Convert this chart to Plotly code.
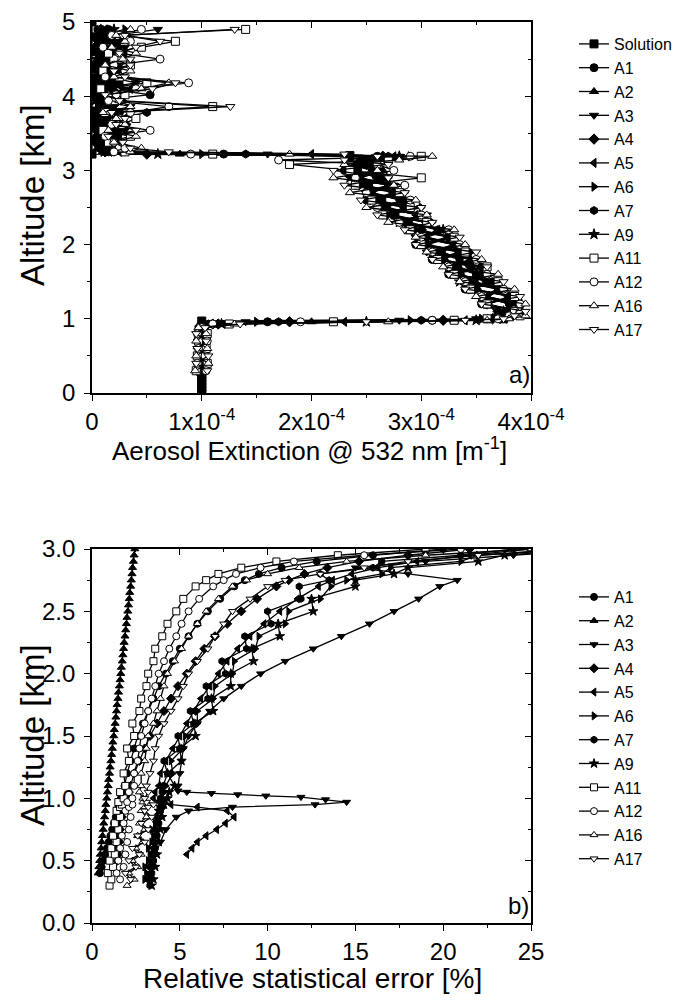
import plotly.graph_objects as go

FONT = "Liberation Sans, Arial, sans-serif"
W, H = 687, 1006
OFF = 8  # page offset of the figure inside the browser window

# ---------------- Panel a) : aerosol extinction profiles (values in 1e-4 m^-1) ----------------
ALT_SOL = [0.00, 0.04, 0.08, 0.12, 0.16, 0.20, 0.24, 0.28, 0.32, 0.40, 0.50, 0.60, 0.70, 0.80, 0.90, 0.97,
           1.00, 1.20, 1.40, 1.60, 1.80, 2.00, 2.20, 2.40, 2.60, 2.80, 3.00, 3.20, 3.22, 3.40, 3.60, 3.80,
           4.00, 4.20, 4.40, 4.60, 4.80, 5.00]
EXT_SOL = [1.0, 1.0, 1.0, 1.0, 1.0, 1.0, 1.0, 1.0, 1.0, 1.0, 1.0, 1.0, 1.0, 1.0, 1.0, 1.0,
           3.75, 3.6, 3.45, 3.3, 3.15, 3.0, 2.88, 2.76, 2.64, 2.52, 2.42, 2.35, 0.0, 0.0, 0.0, 0.0,
           0.0, 0.0, 0.0, 0.0, 0.0, 0.0]

ALT_TOP = [0.30, 0.40, 0.50, 0.60, 0.70, 0.80, 0.88, 0.93, 0.96, 0.98, 1.00, 1.04, 1.10,
           1.20, 1.30, 1.40, 1.50, 1.60, 1.70, 1.80, 1.90, 2.00, 2.10, 2.20, 2.30, 2.40, 2.50, 2.60,
           2.70, 2.80, 2.90, 3.00,
           3.08, 3.14, 3.19, 3.22, 3.25,
           3.30, 3.38, 3.46, 3.54, 3.62, 3.70, 3.78, 3.86, 3.94, 4.02, 4.10, 4.18, 4.26, 4.34, 4.42,
           4.50, 4.58, 4.66, 4.74, 4.82, 4.90]

EXT_A1 = [1.00, 0.98, 1.02, 0.99, 1.01, 0.97, 1.00, 1.10, 1.6, 3.1, 3.6, 3.75, 3.8,
          3.55, 3.85, 3.4, 3.65, 3.25, 3.55, 3.1, 3.35, 2.95, 3.25, 2.9, 3.05, 2.65, 2.85, 2.5, 2.75, 2.4, 2.65, 2.3,
          2.5, 2.55, 2.6, 1.2, 0.15,
          0.10, 0.05, 0.20, 0.08, 0.15, 0.03, 0.25, 0.10, 0.05, 0.53, 0.12, 0.20, 0.06, 0.15, 0.02, 0.18,
          0.10, 0.05, 0.22, 0.08, 0.15]
EXT_A2 = [0.99, 1.01, 0.98, 1.02, 1.00, 1.03, 1.01, 1.20, 2.0, 3.3, 3.7, 3.8, 3.75,
          3.85, 3.6, 3.75, 3.45, 3.6, 3.3, 3.45, 3.15, 3.35, 3.05, 3.25, 2.85, 3.0, 2.65, 2.85, 2.55, 2.75, 2.45, 2.65,
          2.55, 2.5, 2.7, 0.8, 0.1,
          0.05, 0.12, 0.03, 0.18, 0.06, 0.10, 0.02, 0.15, 0.08, 0.04, 0.20, 0.07, 0.12, 0.03, 0.16, 0.05,
          0.10, 0.02, 0.14, 0.06, 0.10]
EXT_A3 = [1.02, 0.97, 1.00, 1.03, 0.98, 1.01, 0.99, 1.05, 1.4, 2.8, 3.5, 3.7, 3.85,
          3.9, 3.6, 3.7, 3.4, 3.55, 3.25, 3.45, 3.05, 3.3, 2.95, 3.2, 2.8, 3.05, 2.6, 2.85, 2.5, 2.75, 2.4, 2.6,
          2.45, 2.6, 2.8, 1.6, 0.2,
          0.15, 0.20, 0.08, 0.30, 0.12, 0.05, 0.22, 0.35, 0.10, 0.18, 0.06, 0.40, 0.15, 0.08, 0.25, 0.12,
          0.05, 0.30, 0.10, 0.20, 0.60]
EXT_A4 = [0.98, 1.02, 1.01, 0.97, 1.02, 0.99, 1.02, 1.15, 1.8, 3.2, 3.65, 3.8, 3.7,
          3.6, 3.8, 3.5, 3.6, 3.35, 3.45, 3.2, 3.35, 3.05, 3.25, 3.0, 3.05, 2.75, 2.85, 2.6, 2.75, 2.5, 2.6, 2.4,
          2.5, 2.45, 2.65, 0.5, 0.12,
          0.08, 0.03, 0.15, 0.05, 0.20, 0.10, 0.04, 0.18, 0.06, 0.12, 0.02, 0.16, 0.08, 0.20, 0.05, 0.10,
          0.15, 0.03, 0.12, 0.06, 0.08]
EXT_A5 = [1.01, 0.99, 0.97, 1.01, 0.99, 1.02, 0.98, 1.08, 2.3, 3.4, 3.7, 3.75, 3.8,
          3.9, 3.6, 3.7, 3.5, 3.5, 3.35, 3.35, 3.2, 3.3, 3.05, 3.15, 2.9, 2.95, 2.7, 2.8, 2.55, 2.7, 2.45, 2.55,
          2.4, 2.55, 2.75, 2.0, 0.25,
          0.20, 0.10, 0.25, 0.12, 0.05, 0.30, 0.15, 0.08, 0.22, 0.10, 0.35, 0.06, 0.18, 0.25, 0.08, 0.15,
          0.30, 0.10, 0.05, 0.20, 0.12]
EXT_A6 = [0.97, 1.03, 0.99, 1.00, 1.03, 0.98, 1.01, 1.12, 1.5, 2.9, 3.55, 3.85, 3.9,
          3.6, 3.85, 3.45, 3.7, 3.3, 3.55, 3.15, 3.45, 3.05, 3.3, 2.95, 3.1, 2.7, 3.0, 2.55, 2.85, 2.45, 2.7, 2.35,
          2.55, 2.6, 2.9, 1.0, 0.1,
          0.12, 0.25, 0.06, 0.20, 0.32, 0.08, 0.15, 0.05, 0.28, 0.12, 0.04, 0.22, 0.10, 0.30, 0.15, 0.06,
          0.20, 0.12, 0.25, 0.08, 0.30]
EXT_A7 = [1.03, 1.00, 1.02, 0.98, 1.00, 1.01, 0.97, 1.06, 1.7, 3.0, 3.6, 3.7, 3.8,
          3.8, 3.55, 3.7, 3.4, 3.5, 3.3, 3.35, 3.1, 3.3, 3.0, 3.15, 2.85, 3.0, 2.6, 2.85, 2.5, 2.7, 2.4, 2.6,
          2.5, 2.5, 2.7, 1.4, 0.2,
          0.06, 0.15, 0.10, 0.04, 0.18, 0.22, 0.50, 0.08, 0.12, 0.05, 0.15, 0.25, 0.03, 0.10, 0.20, 0.08,
          0.12, 0.05, 0.18, 0.10, 0.05]
EXT_A9 = [1.00, 1.01, 0.98, 1.02, 0.97, 1.00, 1.02, 1.18, 2.5, 3.5, 3.75, 3.8, 3.75,
          3.8, 3.55, 3.7, 3.35, 3.55, 3.25, 3.45, 3.1, 3.3, 3.0, 3.2, 2.8, 3.0, 2.65, 2.85, 2.5, 2.7, 2.35, 2.6,
          2.45, 2.55, 2.8, 0.6, 0.15,
          0.18, 0.08, 0.12, 0.25, 0.05, 0.15, 0.10, 0.20, 0.03, 0.16, 0.28, 0.10, 0.06, 0.22, 0.12, 0.04,
          0.18, 0.25, 0.08, 0.14, 0.20]
EXT_A11 = [0.95, 1.05, 0.96, 1.04, 0.97, 1.05, 0.99, 1.25, 2.2, 3.3, 3.6, 3.9, 3.85,
           3.6, 3.85, 3.45, 3.7, 3.3, 3.6, 3.15, 3.4, 3.0, 3.3, 2.9, 3.05, 2.65, 2.9, 2.55, 2.8, 2.4, 3.0, 2.35,
           1.8, 2.7, 3.0, 1.1, 0.3,
           0.25, 0.15, 0.35, 0.10, 0.28, 0.40, 0.12, 1.10, 0.20, 0.30, 0.08, 0.50, 0.25, 0.10, 0.35, 0.20,
           0.15, 0.45, 0.76, 0.25, 1.40]
EXT_A12 = [1.04, 0.96, 1.03, 0.97, 1.05, 0.96, 1.00, 1.10, 1.9, 3.1, 3.7, 3.8, 3.9,
           3.9, 3.55, 3.75, 3.4, 3.6, 3.25, 3.5, 3.1, 3.35, 3.0, 3.25, 2.8, 3.0, 2.6, 2.9, 2.5, 2.85, 2.4, 2.75,
           2.6, 1.7, 2.9, 0.9, 0.2,
           0.30, 0.20, 0.12, 0.53, 0.18, 0.25, 0.35, 0.70, 0.15, 0.22, 0.40, 0.88, 0.12, 0.30, 0.20, 0.62,
           0.25, 0.10, 0.35, 0.18, 0.45]
EXT_A16 = [0.94, 1.06, 0.95, 1.05, 0.95, 1.04, 0.97, 1.30, 2.7, 3.6, 3.8, 3.95, 3.9,
           3.95, 3.5, 3.85, 3.35, 3.7, 3.2, 3.55, 3.05, 3.4, 2.95, 3.3, 2.7, 3.05, 2.5, 2.95, 2.35, 2.75, 2.2, 2.6,
           2.3, 2.8, 3.1, 1.8, 0.35,
           0.45, 0.20, 0.40, 0.15, 0.30, 0.22, 0.10, 0.35, 0.25, 0.15, 0.45, 0.70, 0.20, 0.35, 0.12, 0.28,
           0.40, 0.18, 0.30, 0.22, 0.35]
EXT_A17 = [1.05, 0.95, 1.06, 0.96, 1.04, 0.95, 1.03, 1.35, 2.5, 3.4, 3.75, 3.85, 3.95,
           3.55, 3.9, 3.4, 3.75, 3.25, 3.6, 3.1, 3.5, 2.95, 3.35, 2.85, 3.1, 2.6, 3.0, 2.45, 2.85, 2.3, 2.7, 2.2,
           2.7, 2.3, 2.6, 2.3, 0.7,
           0.35, 0.28, 0.15, 0.40, 0.22, 0.30, 0.18, 1.26, 0.25, 0.12, 0.55, 0.76, 0.30, 0.20, 0.35, 0.35,
           0.25, 0.40, 0.62, 0.30, 1.30]

EXT_TICKS = [0, 1e-4, 2e-4, 3e-4, 4e-4]
EXT_TICKTEXT = ["0", "1x10<sup>-4</sup>", "2x10<sup>-4</sup>", "3x10<sup>-4</sup>", "4x10<sup>-4</sup>"]

# ---------------- Panel b) : relative statistical error (%) ----------------
ALT_ERR = [0.30, 0.35, 0.40, 0.45, 0.50, 0.55, 0.60, 0.65, 0.70, 0.75, 0.80, 0.85, 0.90,
           0.93, 0.95, 0.97, 1.00, 1.05, 1.10,
           1.20, 1.30, 1.40, 1.50, 1.60, 1.70, 1.80, 1.90, 2.00, 2.10, 2.20, 2.30, 2.40, 2.50, 2.60, 2.70,
           2.75, 2.80, 2.85, 2.90, 2.95, 3.00]

ERR_A1 = [None, None, 0.45, 0.55, 0.65, 0.75, 0.85, 0.95, 1.05, 1.15, 1.25, 1.35, 1.45,
          1.5, 1.55, 1.6, 1.65, 1.75, 1.85,
          2.0, 2.2, 2.4, 2.6, 2.9, 3.2, 3.5, 3.8, 4.2, 4.6, 5.0, 5.5, 6.0, 6.6, 7.3, 8.1,
          8.7, 9.5, 10.8, 12.8, 16.0, 20.0]
ALT_A2 = [0.40, 0.45, 0.50, 0.55, 0.60, 0.65, 0.70, 0.75, 0.80, 0.85, 0.90, 0.95, 1.00, 1.05, 1.10,
          1.15, 1.20, 1.25, 1.30, 1.35, 1.40, 1.45, 1.50, 1.55, 1.60, 1.65, 1.70, 1.75, 1.80, 1.85,
          1.90, 1.95, 2.00, 2.05, 2.10, 2.15, 2.20, 2.25, 2.30, 2.35, 2.40, 2.45, 2.50, 2.55, 2.60,
          2.65, 2.70, 2.75, 2.80, 2.85, 2.90, 2.95, 3.00]
ERR_A2 = [0.35, 0.39, 0.44, 0.47, 0.52, 0.55, 0.60, 0.64, 0.67, 0.72, 0.76, 0.79, 0.84, 0.88, 0.92,
          0.95, 1.00, 1.03, 1.08, 1.12, 1.16, 1.19, 1.24, 1.27, 1.32, 1.36, 1.40, 1.43, 1.48, 1.51,
          1.56, 1.60, 1.64, 1.67, 1.72, 1.76, 1.80, 1.83, 1.88, 1.92, 1.96, 1.99, 2.04, 2.08, 2.12,
          2.15, 2.20, 2.24, 2.28, 2.31, 2.36, 2.40, 2.44]
ALT_A3 = [0.35, 0.45, 0.55, 0.65, 0.75, 0.85, 0.90, 0.93, 0.95, 0.97, 0.99, 1.01, 1.02, 1.03, 1.04, 1.05,
          1.06, 1.10, 1.20, 1.30, 1.40, 1.50, 1.60, 1.70, 1.80, 1.90, 2.00, 2.10, 2.20, 2.30, 2.40, 2.50,
          2.60, 2.70, 2.75, 2.80, 2.85, 2.90, 2.95, 3.00]
ERR_A3 = [3.3, 3.4, 3.6, 3.9, 4.2, 4.8, 5.5, 8.0, 12.7, 14.5, 13.3, 11.9, 9.9, 8.3, 6.8, 5.4,
          4.9, 4.9, 5.0, 5.1, 5.2, 5.5, 6.0, 6.7, 7.5, 8.5, 9.6, 11.0, 12.6, 14.2, 15.8, 17.2,
          18.6, 19.8, 20.8, 18.0, 15.0, 19.0, 24.0, 29.0]
ERR_A4 = [None, None, None, None, 1.45, 1.5, 1.5, 1.55, 1.6, 1.6, 1.65, 1.7, 1.75,
          1.8, 1.85, 1.9,
          2.0, 2.1, 2.2,
          2.4, 2.7, 3.0, 3.3, 3.7, 4.1, 4.5, 4.9, 5.4, 5.9, 6.4, 7.0, 7.7, 8.5, 9.4, 10.5,
          11.2, 12.1, 13.4, 15.2, 18.0, 21.5]
ERR_A5 = [None, None, None, None, None, 5.4, 5.7, 6.0, 6.5, 7.1, 7.6, 8.1, 7.7,
          6.0, 4.5, 3.8,
          3.5, 3.6, 3.8,
          3.9, 4.2, 4.6, 5.0, 5.4, 5.8, 6.2, 6.7, 7.2, 7.7, 8.3, 9.0, 9.8, 10.7, 11.7, 12.9,
          13.7, 14.8, 16.3, 18.5, 21.5, 25.0]
ERR_A6 = [None, 3.0, 3.1, 3.0, 3.2, 3.3, 3.2, 3.4, 3.5, 3.4, 3.6, 3.7, 3.8,
          3.9, 4.0, 4.1,
          4.0, 4.1, 4.2,
          4.6, 4.5, 5.2, 5.3, 6.0, 6.0, 6.9, 7.0, 8.0, 8.1, 9.3, 9.5, 11.0, 11.2, 13.0, 13.6,
          14.5, 16.5, 17.0, 21.0, 22.0, 27.0]
ERR_A7 = [3.3, 3.2, 3.4, 3.3, 3.5, 3.4, 3.6, 3.5, 3.7, 3.6, 3.8, 3.7, 3.9,
          4.0, 4.0, 4.1,
          3.9, 4.0, 4.05,
          4.3, 4.1, 5.0, 4.9, 5.8, 5.6, 6.6, 6.5, 7.6, 7.4, 8.8, 8.7, 10.2, 10.0, 11.9, 11.8,
          13.5, 13.0, 16.0, 16.5, 21.0, 24.0]
ERR_A9 = [3.4, 3.5, 3.3, 3.6, 3.4, 3.7, 3.5, 3.8, 3.6, 3.9, 3.7, 4.0, 3.8,
          3.9, 4.1, 4.0,
          4.3, 4.4, 4.7,
          4.3, 5.1, 5.0, 5.9, 5.8, 6.9, 6.8, 7.9, 7.9, 9.2, 9.1, 10.7, 10.6, 12.6, 12.5, 15.0,
          15.0, 17.2, 18.0, 22.0, 23.5, 28.0]
ERR_A11 = [1.0, 1.1, 0.9, 1.2, 1.0, 1.3, 1.1, 1.4, 1.2, 1.5, 1.3, 1.6, 1.4,
           1.6, 1.7, 1.5,
           1.8, 1.6, 1.9,
           1.8, 2.1, 2.0, 2.4, 2.3, 2.7, 2.8, 3.1, 3.2, 3.5, 3.6, 4.0, 4.3, 4.8, 5.2, 5.9,
           6.5, 7.2, 8.5, 10.5, 14.0, 19.0]
ERR_A12 = [None, 1.6, 1.4, 1.8, 1.5, 1.9, 1.6, 2.0, 1.7, 2.1, 1.8, 2.2, 1.9,
           2.1, 2.3, 2.0,
           2.3, 2.1, 2.4,
           2.4, 2.6, 2.7, 2.8, 3.0, 3.2, 3.4, 3.6, 3.8, 4.1, 4.4, 4.8, 5.1, 5.5, 6.1, 6.9,
           7.5, 8.2, 9.6, 11.5, 15.5, 21.0]
ERR_A16 = [2.0, 2.4, 2.1, 2.6, 2.3, 2.8, 2.5, 2.9, 2.6, 3.0, 2.7, 3.1, 2.8,
           3.0, 3.2, 2.9,
           2.9, 2.7, 2.8,
           2.8, 3.0, 3.1, 3.2, 3.5, 3.7, 3.9, 4.1, 4.3, 4.7, 5.1, 5.5, 6.0, 6.5, 7.2, 8.0,
           8.8, 10.0, 11.8, 14.5, 19.0, 25.0]
ERR_A17 = [None, 2.2, 1.9, 2.5, 2.1, 2.7, 2.3, 3.0, 2.6, 3.2, 2.8, 3.4, 3.0,
           3.2, 3.5, 3.1,
           3.0, 3.2, 3.1,
           3.3, 3.5, 3.6, 3.8, 4.1, 4.5, 4.9, 5.2, 5.5, 6.0, 6.6, 7.0, 7.5, 8.0, 9.0, 10.0,
           11.0, 13.0, 15.5, 18.0, 22.0, 28.0]

# ---------------- styles ----------------
STYLE = {
    "Solution": ("square", "black"),
    "A1": ("circle", "black"),
    "A2": ("triangle-up", "black"),
    "A3": ("triangle-down", "black"),
    "A4": ("diamond", "black"),
    "A5": ("triangle-left", "black"),
    "A6": ("triangle-right", "black"),
    "A7": ("hexagon", "black"),
    "A9": ("star", "black"),
    "A11": ("square", "white"),
    "A12": ("circle", "white"),
    "A16": ("triangle-up", "white"),
    "A17": ("triangle-down", "white"),
}

top_series = [
    ("Solution", ALT_SOL, EXT_SOL), ("A1", ALT_TOP, EXT_A1), ("A2", ALT_TOP, EXT_A2),
    ("A3", ALT_TOP, EXT_A3), ("A4", ALT_TOP, EXT_A4), ("A5", ALT_TOP, EXT_A5),
    ("A6", ALT_TOP, EXT_A6), ("A7", ALT_TOP, EXT_A7), ("A9", ALT_TOP, EXT_A9),
    ("A11", ALT_TOP, EXT_A11), ("A12", ALT_TOP, EXT_A12), ("A16", ALT_TOP, EXT_A16),
    ("A17", ALT_TOP, EXT_A17),
]
bottom_series = [
    ("A1", ALT_ERR, ERR_A1), ("A2", ALT_A2, ERR_A2), ("A3", ALT_A3, ERR_A3),
    ("A4", ALT_ERR, ERR_A4), ("A5", ALT_ERR, ERR_A5), ("A6", ALT_ERR, ERR_A6),
    ("A7", ALT_ERR, ERR_A7), ("A9", ALT_ERR, ERR_A9), ("A11", ALT_ERR, ERR_A11),
    ("A12", ALT_ERR, ERR_A12), ("A16", ALT_ERR, ERR_A16), ("A17", ALT_ERR, ERR_A17),
]

fig = go.Figure()


def add(series, xa, ya, leg, scale, size):
    for name, alt, vals in series:
        sym, fill = STYLE[name]
        n = min(len(alt), len(vals))
        fig.add_trace(go.Scatter(
            x=[None if v is None else v * scale for v in vals[:n]], y=alt[:n],
            mode="lines+markers", name=name, xaxis=xa, yaxis=ya, legend=leg,
            legendgroup=leg + name,
            line=dict(color="black", width=1.3),
            marker=dict(symbol=sym, size=size, color=fill, line=dict(color="black", width=1)),
            connectgaps=False, cliponaxis=True,
        ))


add(top_series, "x", "y", "legend", 1e-4, 8)
add(bottom_series, "x2", "y2", "legend2", 1.0, 7)

# dummy traces so the mirrored (inside-tick) axes get drawn
for xa, ya in [("x3", "y"), ("x", "y3"), ("x4", "y2"), ("x2", "y4")]:
    fig.add_trace(go.Scatter(x=[None], y=[None], xaxis=xa, yaxis=ya, showlegend=False, hoverinfo="skip"))


def px_x(p):
    """page x pixel -> paper fraction"""
    return (p - OFF) / W


def px_y(p):
    """page y pixel -> paper fraction"""
    return 1 - (p - OFF) / H


XD = [px_x(92), px_x(531)]
YD1 = [px_y(393), px_y(22)]
YD2 = [px_y(923), px_y(549)]

tickfont = dict(family=FONT, size=24, color="black")
base = dict(showgrid=False, zeroline=False, showline=True, linecolor="black", linewidth=1.6,
            ticks="outside", ticklen=6, tickwidth=1.4, tickcolor="black", tickfont=tickfont,
            mirror=True, automargin=False)
over = dict(showgrid=False, zeroline=False, showline=False, ticks="inside", ticklen=6,
            tickwidth=1.4, tickcolor="black", showticklabels=False, automargin=False)

fig.update_layout(
    template="none",
    width=W, height=H, margin=dict(l=0, r=0, t=0, b=0, pad=0, autoexpand=False),
    plot_bgcolor="white", paper_bgcolor="white",
    xaxis=dict(base, domain=XD, anchor="y", range=[0, 4e-4], tickmode="array",
               tickvals=EXT_TICKS, ticktext=EXT_TICKTEXT,
               minor=dict(ticks="outside", ticklen=3, tick0=0, dtick=5e-5, tickcolor="black")),
    yaxis=dict(base, domain=YD1, anchor="x", range=[0, 5], dtick=1, ticklabelstandoff=4,
               minor=dict(ticks="outside", ticklen=3, tick0=0, dtick=0.5, tickcolor="black")),
    xaxis3=dict(over, overlaying="x", anchor="y", side="top", range=[0, 4e-4], tickmode="array",
                tickvals=EXT_TICKS,
                minor=dict(ticks="inside", ticklen=3, tick0=0, dtick=5e-5, tickcolor="black")),
    yaxis3=dict(over, overlaying="y", anchor="x", side="right", range=[0, 5], dtick=1,
                minor=dict(ticks="inside", ticklen=3, tick0=0, dtick=0.5, tickcolor="black")),
    xaxis2=dict(base, domain=XD, anchor="y2", range=[0, 25], dtick=5,
                minor=dict(ticks="outside", ticklen=3, tick0=0, dtick=2.5, tickcolor="black")),
    yaxis2=dict(base, domain=YD2, anchor="x2", range=[0, 3], dtick=0.5, tickformat=".1f",
                ticklabelstandoff=4,
                minor=dict(ticks="outside", ticklen=3, tick0=0, dtick=0.25, tickcolor="black")),
    xaxis4=dict(over, overlaying="x2", anchor="y2", side="top", range=[0, 25], dtick=5,
                minor=dict(ticks="inside", ticklen=3, tick0=0, dtick=2.5, tickcolor="black")),
    yaxis4=dict(over, overlaying="y2", anchor="x2", side="right", range=[0, 3], dtick=0.5,
                minor=dict(ticks="inside", ticklen=3, tick0=0, dtick=0.25, tickcolor="black")),
    legend=dict(x=px_x(574), y=px_y(27), xanchor="left", yanchor="top",
                font=dict(family=FONT, size=16, color="black"), tracegroupgap=0,
                bgcolor="rgba(0,0,0,0)", borderwidth=0),
    legend2=dict(x=px_x(574), y=px_y(580), xanchor="left", yanchor="top",
                 font=dict(family=FONT, size=16, color="black"), tracegroupgap=0,
                 bgcolor="rgba(0,0,0,0)", borderwidth=0),
)

ytitle_font = dict(family=FONT, size=33, color="black")
fig.add_annotation(text="Aerosol Extinction @ 532 nm [m<sup>-1</sup>]", xref="paper", yref="paper",
                   x=px_x(309), y=px_y(450), showarrow=False,
                   font=dict(family=FONT, size=26, color="black"),
                   xanchor="center", yanchor="middle")
fig.add_annotation(text="Relative statistical error [%]", xref="paper", yref="paper",
                   x=px_x(312), y=px_y(978), showarrow=False,
                   font=dict(family=FONT, size=28, color="black"),
                   xanchor="center", yanchor="middle")
fig.add_annotation(text="Altitude [km]", xref="paper", yref="paper", textangle=-90,
                   x=px_x(32), y=px_y(195), showarrow=False, font=ytitle_font,
                   xanchor="center", yanchor="middle")
fig.add_annotation(text="Altitude [km]", xref="paper", yref="paper", textangle=-90,
                   x=px_x(32), y=px_y(735), showarrow=False, font=ytitle_font,
                   xanchor="center", yanchor="middle")
fig.add_annotation(text="a)", xref="paper", yref="paper", x=px_x(532), y=px_y(390),
                   xanchor="right", yanchor="bottom", showarrow=False,
                   font=dict(family=FONT, size=24, color="black"))
fig.add_annotation(text="b)", xref="paper", yref="paper", x=px_x(531), y=px_y(921),
                   xanchor="right", yanchor="bottom", showarrow=False,
                   font=dict(family=FONT, size=24, color="black"))

fig.write_html("out.html")
